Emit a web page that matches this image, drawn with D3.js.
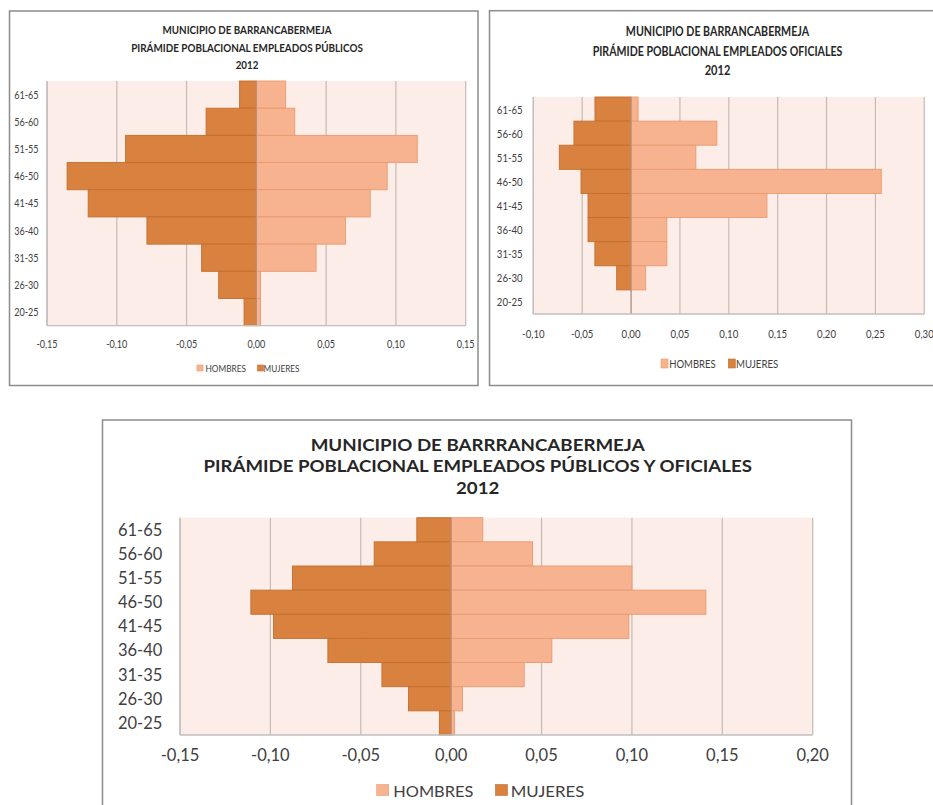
<!DOCTYPE html>
<html><head><meta charset="utf-8">
<script src="https://cdn.jsdelivr.net/npm/d3@7"></script>
<style>html,body{margin:0;padding:0;background:#fff;overflow:hidden}svg{display:block}</style>
</head><body>
<script>
// ---- DATA ----
const ages = ["61-65","56-60","51-55","46-50","41-45","36-40","31-35","26-30","20-25"];
const seriesNames = ["HOMBRES","MUJERES"];

const publicosHombres = [0.021, 0.0275, 0.1153, 0.0937, 0.0816, 0.0638, 0.0428, 0.003, 0.003];
const publicosMujeres = [-0.012, -0.036, -0.0937, -0.1356, -0.1205, -0.0784, -0.0392, -0.027, -0.0088];

const oficialesHombres = [0.0072, 0.0878, 0.0663, 0.256, 0.139, 0.0366, 0.0366, 0.015, 0];
const oficialesMujeres = [-0.0369, -0.0584, -0.0734, -0.0512, -0.044, -0.044, -0.037, -0.0147, 0];

const totalHombres = [0.0175, 0.045, 0.10, 0.1409, 0.0983, 0.0557, 0.0404, 0.0063, 0.0018];
const totalMujeres = [-0.019, -0.0426, -0.0878, -0.1108, -0.0983, -0.0682, -0.0383, -0.0236, -0.0065];

const publicosTicks = [-0.15, -0.10, -0.05, 0, 0.05, 0.10, 0.15];
const oficialesTicks = [-0.10, -0.05, 0, 0.05, 0.10, 0.15, 0.20, 0.25, 0.30];
const totalTicks = [-0.15, -0.10, -0.05, 0, 0.05, 0.10, 0.15, 0.20];

const titlesPublicos = ["MUNICIPIO DE BARRANCABERMEJA","PIRÁMIDE POBLACIONAL EMPLEADOS PÚBLICOS","2012"];
const titlesOficiales = ["MUNICIPIO DE BARRANCABERMEJA","PIRÁMIDE POBLACIONAL EMPLEADOS OFICIALES","2012"];
const titlesTotal = ["MUNICIPIO DE BARRRANCABERMEJA","PIRÁMIDE POBLACIONAL EMPLEADOS PÚBLICOS Y OFICIALES","2012"];

// ---- STYLE ----
const C_H = "#F7B38F", C_M = "#D9813F";
const S_H = "#E89A70", S_M = "#C36F2F";
const PLOT_BG = "#FCEDE8", GRID = "#C7BAB5", FRAME = "#8C8C8C", TXT = "#404040";
const FONT = "Lato, 'Open Sans', sans-serif";

const loc = d3.formatLocale({decimal: ",", thousands: ".", grouping: [3], currency: ["", ""], minus: "-"});
const fmt = loc.format(".2f");

const svg = d3.select("body").append("svg").attr("width", 933).attr("height", 805);

function fitText(sel, w) {
  sel.each(function () {
    const n = this.getComputedTextLength();
    if (n > 0) d3.select(this).attr("textLength", w).attr("lengthAdjust", "spacingAndGlyphs");
  });
}
function condense(sel, k) {
  sel.each(function () {
    const n = this.getComputedTextLength();
    if (n > 0 && k !== 1) d3.select(this).attr("textLength", n * k).attr("lengthAdjust", "spacingAndGlyphs");
  });
}

function drawChart(cfg) {
  const g = svg.append("g");
  // frame
  g.append("rect").attr("x", cfg.frame[0]).attr("y", cfg.frame[1])
    .attr("width", cfg.frame[2]).attr("height", cfg.frame[3])
    .attr("fill", "#fff").attr("stroke", FRAME).attr("stroke-width", 1.5);

  const [px0, py0, px1, py1] = cfg.plot;
  const x = d3.scaleLinear().domain(cfg.domain).range([px0, px1]);
  const y = d3.scaleBand().domain(ages).range([py0, py1]).padding(0);

  // plot bg
  g.append("rect").attr("x", px0).attr("y", py0).attr("width", px1 - px0).attr("height", py1 - py0)
    .attr("fill", PLOT_BG);

  // gridlines
  g.append("g").selectAll("line").data(cfg.ticks).join("line")
    .attr("x1", d => x(d)).attr("x2", d => x(d)).attr("y1", py0).attr("y2", py1)
    .attr("stroke", GRID).attr("stroke-width", 1.2);

  // bars
  const rows = ages.map((a, i) => ({age: a, h: cfg.hombres[i], m: cfg.mujeres[i]}));
  g.append("g").selectAll("rect").data(rows.filter(d => d.m !== 0)).join("rect")
    .attr("x", d => x(d.m)).attr("width", d => x(0) - x(d.m))
    .attr("y", d => y(d.age)).attr("height", y.bandwidth())
    .attr("fill", C_M).attr("stroke", S_M).attr("stroke-width", 0.9);
  g.append("g").selectAll("rect").data(rows.filter(d => d.h !== 0)).join("rect")
    .attr("x", x(0)).attr("width", d => x(d.h) - x(0))
    .attr("y", d => y(d.age)).attr("height", y.bandwidth())
    .attr("fill", C_H).attr("stroke", S_H).attr("stroke-width", 0.9);

  // zero axis line
  g.append("line").attr("x1", x(0)).attr("x2", x(0)).attr("y1", py0).attr("y2", py1)
    .attr("stroke", "#A88A7C").attr("stroke-width", 1.3).attr("opacity", 0.7);
  // bottom axis line
  g.append("line").attr("x1", px0).attr("x2", px1).attr("y1", py1).attr("y2", py1)
    .attr("stroke", "#BFBFBF").attr("stroke-width", 1.3);
  g.append("line").attr("x1", px0).attr("x2", px0).attr("y1", py0).attr("y2", py1)
    .attr("stroke", "#BFBFBF").attr("stroke-width", 1.3);

  // x tick labels
  const xt = g.append("g").selectAll("text").data(cfg.ticks).join("text")
    .attr("x", d => x(d)).attr("y", cfg.tickY).attr("text-anchor", "middle")
    .attr("dominant-baseline", "central")
    .attr("font-family", FONT).attr("font-size", cfg.fs).attr("fill", TXT)
    .text(d => fmt(d));
  condense(xt, cfg.cx);

  // y labels
  const yl = g.append("g").selectAll("text").data(ages).join("text")
    .attr("x", cfg.labelX).attr("y", d => y(d) + y.bandwidth() / 2).attr("text-anchor", "end")
    .attr("dominant-baseline", "central")
    .attr("font-family", FONT).attr("font-size", cfg.fs).attr("fill", TXT)
    .text(d => d);
  condense(yl, cfg.cx);

  // title
  const tt = g.append("g").selectAll("text").data(cfg.titles).join("text")
    .attr("x", cfg.titleX).attr("y", (d, i) => cfg.titleY[i]).attr("text-anchor", "middle")
    .attr("dominant-baseline", "central")
    .attr("font-family", FONT).attr("font-weight", "bold").attr("font-size", cfg.tfs).attr("fill", "#262626")
    .text(d => d);
  tt.each(function (d, i) { fitText(d3.select(this), cfg.titleW[i]); });

  // legend
  const lg = g.append("g");
  seriesNames.forEach((name, i) => {
    const L = cfg.legend[i];
    lg.append("rect").attr("x", L.sx).attr("y", cfg.legendY - L.sh / 2).attr("width", L.sw).attr("height", L.sh)
      .attr("fill", i === 0 ? C_H : C_M).attr("stroke", i === 0 ? S_H : S_M).attr("stroke-width", 0.6);
    const t = lg.append("text").attr("x", L.tx).attr("y", cfg.legendY).attr("dominant-baseline", "central")
      .attr("font-family", FONT).attr("font-size", cfg.lfs).attr("fill", TXT).text(name);
    fitText(t, L.tw);
  });
}

drawChart({
  frame: [9.5, 11, 468.5, 374.5],
  plot: [47, 81, 465.7, 325.7],
  domain: [-0.15, 0.15], ticks: publicosTicks,
  hombres: publicosHombres, mujeres: publicosMujeres,
  fs: 10.5, cx: 0.86, tickY: 343.5, labelX: 38.5,
  titles: titlesPublicos, titleX: 247, titleY: [29.5, 47, 64.5], titleW: [169, 231.7, 22.7], tfs: 11,
  legendY: 368, lfs: 9.5,
  legend: [{sx: 197, sw: 6, sh: 6, tx: 205.5, tw: 40.5}, {sx: 257.5, sw: 6, sh: 6, tx: 263.5, tw: 36}]
});

drawChart({
  frame: [489.5, 10.7, 460, 374.8],
  plot: [533.3, 97, 924.3, 314],
  domain: [-0.10, 0.30], ticks: oficialesTicks,
  hombres: oficialesHombres, mujeres: oficialesMujeres,
  fs: 12, cx: 0.8, tickY: 333.5, labelX: 522.7,
  titles: titlesOficiales, titleX: 717.5, titleY: [31.7, 51, 70.7], titleW: [183.3, 249.7, 25.7], tfs: 12.5,
  legendY: 363.5, lfs: 11,
  legend: [{sx: 661, sw: 7, sh: 9, tx: 669.3, tw: 46.3}, {sx: 728.3, sw: 7, sh: 9, tx: 736, tw: 42.3}]
});

drawChart({
  frame: [102.5, 420, 749, 400],
  plot: [180, 517.7, 812.7, 735],
  domain: [-0.15, 0.20], ticks: totalTicks,
  hombres: totalHombres, mujeres: totalMujeres,
  fs: 16.5, cx: 1.0, tickY: 755, labelX: 162.3,
  titles: titlesTotal, titleX: 477.7, titleY: [444.3, 465.7, 487.7], titleW: [334, 548.3, 43.3], tfs: 17,
  legendY: 790, lfs: 16,
  legend: [{sx: 376.7, sw: 12, sh: 11, tx: 393.3, tw: 80}, {sx: 495.5, sw: 12, sh: 11, tx: 510.7, tw: 73.6}]
});
</script>
</body></html>
